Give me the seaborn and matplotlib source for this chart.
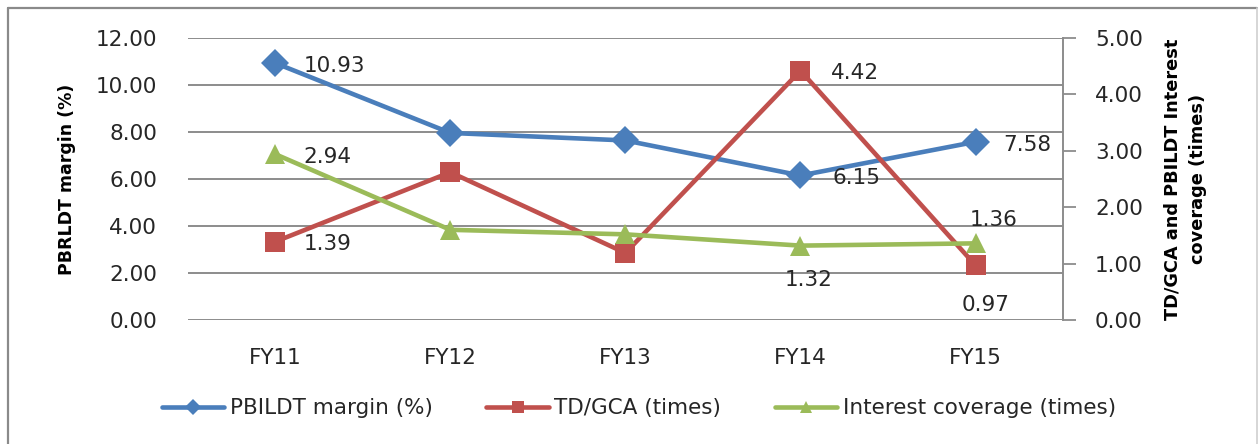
import matplotlib
matplotlib.use("Agg")
import matplotlib.pyplot as plt
from matplotlib.lines import Line2D
import seaborn as sns
import pandas as pd

# Financial ratios by fiscal year
years = ["FY11", "FY12", "FY13", "FY14", "FY15"]
pbildt_margin = [10.93, 7.96, 7.64, 6.15, 7.58]
td_gca = [1.39, 2.62, 1.19, 4.42, 0.97]
interest_cov = [2.94, 1.60, 1.52, 1.32, 1.36]

left_ticks = [0, 2, 4, 6, 8, 10, 12]
right_ticks = [0, 1, 2, 3, 4, 5]

BLUE = "#4A7EBB"
RED = "#C0504D"
GREEN = "#9BBB59"
GRID = "#8C8C8C"
TXT = "#262626"

df = pd.DataFrame({"year": years, "margin": pbildt_margin,
                   "tdgca": td_gca, "icov": interest_cov})

sns.set_theme(style="white")
plt.rcParams["font.family"] = ["DejaVu Sans"]

fig = plt.figure(figsize=(12.6, 4.44), dpi=100)
ax = fig.add_axes([0.149, 0.279, 0.6947, 0.6356])
ax2 = ax.twinx()

sns.lineplot(data=df, x="year", y="margin", ax=ax, color=BLUE, lw=3.3,
             marker="D", markersize=14, markeredgewidth=0, sort=False)
sns.lineplot(data=df, x="year", y="tdgca", ax=ax2, color=RED, lw=3.3,
             marker="s", markersize=14, markeredgewidth=0, sort=False)
sns.lineplot(data=df, x="year", y="icov", ax=ax2, color=GREEN, lw=3.3,
             marker="^", markersize=15, markeredgewidth=0, sort=False)

# left axis
ax.set_ylim(0, 12)
ax.set_xlim(-0.5, len(years) - 0.5)
ax.set_yticks(left_ticks)
ax.set_yticklabels([f"{v:.2f}" for v in left_ticks], fontsize=15.5, color=TXT)
ax.tick_params(axis="y", length=0, pad=22)
ax.tick_params(axis="x", length=0, pad=20, labelsize=15.5, labelcolor=TXT)
ax.set_xlabel("")
ax.set_ylabel("PBRLDT margin (%)", fontsize=12.5, fontweight="bold",
              color="black", labelpad=14)
ax.grid(axis="y", color=GRID, lw=1.4)
ax.grid(axis="x", visible=False)
for s in ax.spines.values():
    s.set_visible(False)

# right axis
ax2.set_ylim(0, 5)
ax2.set_yticks(right_ticks)
ax2.set_yticklabels([f"{v:.2f}" for v in right_ticks], fontsize=15.5, color=TXT)
ax2.tick_params(axis="y", length=9, width=1.3, color=GRID, direction="out", pad=14)
ax2.set_ylabel("TD/GCA and PBILDT Interest\ncoverage (times)", fontsize=12.8,
               fontweight="bold", color="black", labelpad=15, linespacing=1.5)
ax2.grid(False)
for name, s in ax2.spines.items():
    s.set_visible(name == "right")
ax2.spines["right"].set_color(GRID)
ax2.spines["right"].set_linewidth(1.4)

# value labels
lab = dict(fontsize=15.5, color=TXT, textcoords="offset pixels")
i11, i14, i15 = 0, 3, 4
ax.annotate(f"{pbildt_margin[i11]:.2f}", (years[i11], pbildt_margin[i11]),
            xytext=(28, -3), ha="left", va="center", **lab)
ax2.annotate(f"{interest_cov[i11]:.2f}", (years[i11], interest_cov[i11]),
             xytext=(28, -3), ha="left", va="center", **lab)
ax2.annotate(f"{td_gca[i11]:.2f}", (years[i11], td_gca[i11]),
             xytext=(28, -2), ha="left", va="center", **lab)
ax2.annotate(f"{td_gca[i14]:.2f}", (years[i14], td_gca[i14]),
             xytext=(30, -2), ha="left", va="center", **lab)
ax.annotate(f"{pbildt_margin[i14]:.2f}", (years[i14], pbildt_margin[i14]),
            xytext=(32, -3), ha="left", va="center", **lab)
ax2.annotate(f"{interest_cov[i14]:.2f}", (years[i14], interest_cov[i14]),
             xytext=(8, -34), ha="center", va="center", **lab)
ax.annotate(f"{pbildt_margin[i15]:.2f}", (years[i15], pbildt_margin[i15]),
            xytext=(28, -3), ha="left", va="center", **lab)
ax2.annotate(f"{interest_cov[i15]:.2f}", (years[i15], interest_cov[i15]),
             xytext=(18, 23), ha="center", va="center", **lab)
ax2.annotate(f"{td_gca[i15]:.2f}", (years[i15], td_gca[i15]),
             xytext=(10, -40), ha="center", va="center", **lab)

# legend
handles = [
    Line2D([], [], color=BLUE, lw=3.3, marker="D", markersize=8, markeredgewidth=0),
    Line2D([], [], color=RED, lw=3.3, marker="s", markersize=8, markeredgewidth=0),
    Line2D([], [], color=GREEN, lw=3.3, marker="^", markersize=9, markeredgewidth=0),
]
labels = ["PBILDT margin (%)", "TD/GCA (times)", "Interest coverage (times)"]
fig.legend(handles, labels, loc="center", bbox_to_anchor=(0.507, 0.081), ncol=3,
           frameon=False, fontsize=15.5, handlelength=2.9, handletextpad=0.25,
           columnspacing=2.5, labelcolor=TXT)

# outer frame
fig.add_artist(Line2D([0.0063, 0.998], [0.982, 0.982], transform=fig.transFigure,
                      color="#8A8A8A", lw=1.6))
fig.add_artist(Line2D([0.0063, 0.0063], [0.0, 0.982], transform=fig.transFigure,
                      color="#8A8A8A", lw=1.6))
fig.add_artist(Line2D([0.998, 0.998], [0.0, 0.982], transform=fig.transFigure,
                      color="#D0D0D0", lw=1.2))

fig.savefig("out.png", dpi=100)
